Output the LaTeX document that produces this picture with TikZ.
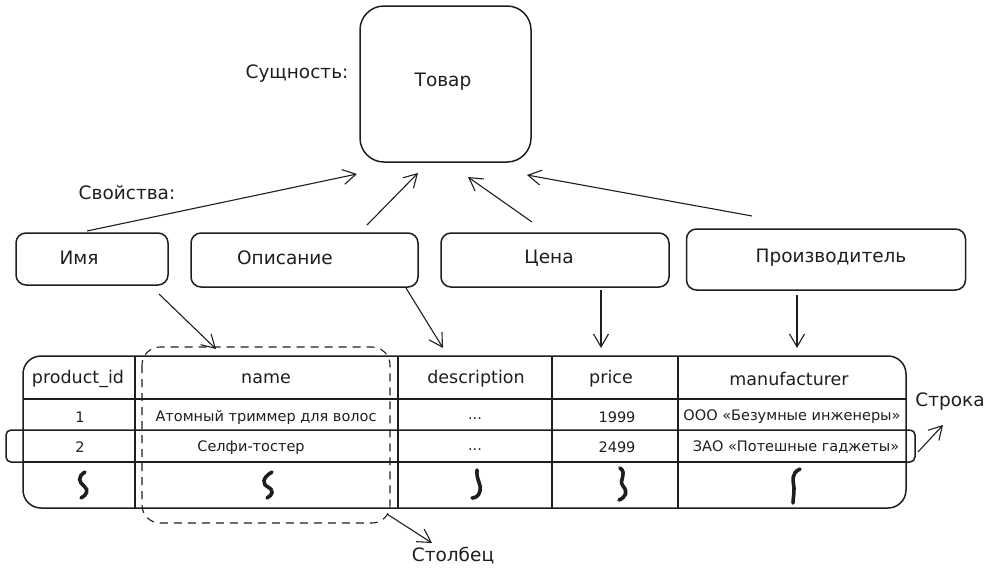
\documentclass[tikz,border=0pt]{standalone}
\usepackage{fontspec}
\setmainfont{DejaVu Sans}
\usetikzlibrary{arrows.meta}
\definecolor{inkc}{HTML}{1E1E1E}
\begin{document}
\begin{tikzpicture}[x=1pt,y=-1pt,
  box/.style={draw=inkc, line width=1.5pt, rounded corners=10pt, inner sep=0pt},
  bigbox/.style={draw=inkc, line width=1.5pt, rounded corners=24pt, inner sep=0pt},
  lbl/.style={text=inkc, font=\fontsize{18.5}{22}\selectfont, inner sep=0pt},
  head/.style={text=inkc, font=\fontsize{17.5}{20}\selectfont, inner sep=0pt},
  cell/.style={text=inkc, font=\fontsize{14.5}{17}\selectfont, inner sep=0pt},
  arr/.style={draw=inkc, line width=1.1pt, -{Straight Barb[length=13pt,width=15pt,line width=1.1pt]}},
  tline/.style={draw=inkc, line width=1.5pt},
  squig/.style={draw=inkc, line width=3.6pt, line cap=round},
]
\useasboundingbox (0,0) rectangle (993,568);

% entity
\node[bigbox, minimum width=171pt, minimum height=156pt] (tovar) at (445.5,84) {};
\node[lbl] (tovart) at (443,82) {Товар};
\node[lbl] (sushch) at (297,74) {Сущность:};
\node[lbl] (svoist) at (127,193) {Свойства:};

% property boxes
\node[box, minimum width=152pt, minimum height=52pt] (imya) at (92,259) {};
\node[lbl] (imyat) at (79,258) {Имя};
\node[box, minimum width=227pt, minimum height=54pt] (opis) at (304.5,260) {};
\node[lbl] (opist) at (285,258) {Описание};
\node[box, minimum width=228pt, minimum height=54pt] (cena) at (555,260) {};
\node[lbl] (cenat) at (549,258) {Цена};
\node[box, minimum width=279pt, minimum height=61pt] (proizv) at (826,259.5) {};
\node[lbl] (proizvt) at (831,258) {Производитель};

% arrow ends
\coordinate (s1) at (87,231);  \coordinate (e1) at (357,174);
\coordinate (s2) at (367,225); \coordinate (e2) at (418,173);
\coordinate (s3) at (532,222); \coordinate (e3) at (468,177);
\coordinate (s4) at (752,216); \coordinate (e4) at (527,175);
\coordinate (d1s) at (159,294); \coordinate (d1e) at (216,349);
\coordinate (d2s) at (406,288); \coordinate (d2e) at (443,348);
\coordinate (d3s) at (601,290); \coordinate (d3e) at (601,348);
\coordinate (d4s) at (797,295); \coordinate (d4e) at (797,348);
\coordinate (c1s) at (387,514); \coordinate (c1e) at (432,543);
\coordinate (r1s) at (918,452); \coordinate (r1e) at (943,425);

\draw[arr] (s1) -- (e1);
\draw[arr] (s2) -- (e2);
\draw[arr] (s3) -- (e3);
\draw[arr] (s4) -- (e4);
\draw[arr] (d1s) -- (d1e);
\draw[arr] (d2s) -- (d2e);
\draw[arr] (d3s) -- (d3e);
\draw[arr] (d4s) -- (d4e);

% table
\draw[tline, rounded corners=18pt] (23,356) rectangle (906,508);
\draw[tline] (135,356) -- (135,508);
\draw[tline] (398,356) -- (398,508);
\draw[tline] (552,356) -- (552,508);
\draw[tline] (678,356) -- (678,508);
\draw[tline] (23,399) -- (906,399);
\draw[tline] (23,462) -- (906,462);
% row highlight (Строка)
\draw[tline, rounded corners=5pt] (6,430) rectangle (915,462);
% column highlight (Столбец)
\draw[draw=inkc, line width=1.1pt, dashed, dash pattern=on 8pt off 6pt, rounded corners=18pt] (142,347) rectangle (390,523);

% header
\node[head] (h1) at (78,379) {product\_id};
\node[head] (h2) at (266,379) {name};
\node[head] (h3) at (476,379) {description};
\node[head] (h4) at (611,379) {price};
\node[head] (h5) at (789,379) {manufacturer};
% row 1
\node[cell] (a1) at (80,417) {1};
\node[cell] (a2) at (266,417) {Атомный триммер для волос};
\node[cell] (a3) at (475,419) {...};
\node[cell] (a4) at (617,417) {1999};
\node[cell] (a5) at (792,417) {ООО «Безумные инженеры»};
% row 2
\node[cell] (b1) at (80,447) {2};
\node[cell] (b2) at (251,448) {Селфи-тостер};
\node[cell] (b3) at (475,450) {...};
\node[cell] (b4) at (617,447) {2499};
\node[cell] (b5) at (796,447) {ЗАО «Потешные гаджеты»};
% row 3 squiggles
\draw[squig] (85,472) .. controls (77,477) and (79,482) .. (84,486) .. controls (89,490) and (87,495) .. (81,498);
\draw[squig] (272,472) .. controls (262,478) and (262,484) .. (268,487) .. controls (274,490) and (273,495) .. (267,498);
\draw[squig] (477,470) .. controls (476,480) and (482,485) .. (480,491) .. controls (479,496) and (475,498) .. (472,498);
\draw[squig] (620,468) .. controls (628,474) and (618,480) .. (623,486) .. controls (628,492) and (626,497) .. (619,500);
\draw[squig] (800,469) .. controls (791,473) and (793,480) .. (794,488) .. controls (794,495) and (793,500) .. (793,503);

% labels for table parts
\node[lbl] (stolb) at (453,556) {Столбец};
\node[lbl] (stroka) at (950,402) {Строка};
\draw[arr] (c1s) -- (c1e);
\draw[arr] (r1s) -- (r1e);
\end{tikzpicture}
\end{document}
